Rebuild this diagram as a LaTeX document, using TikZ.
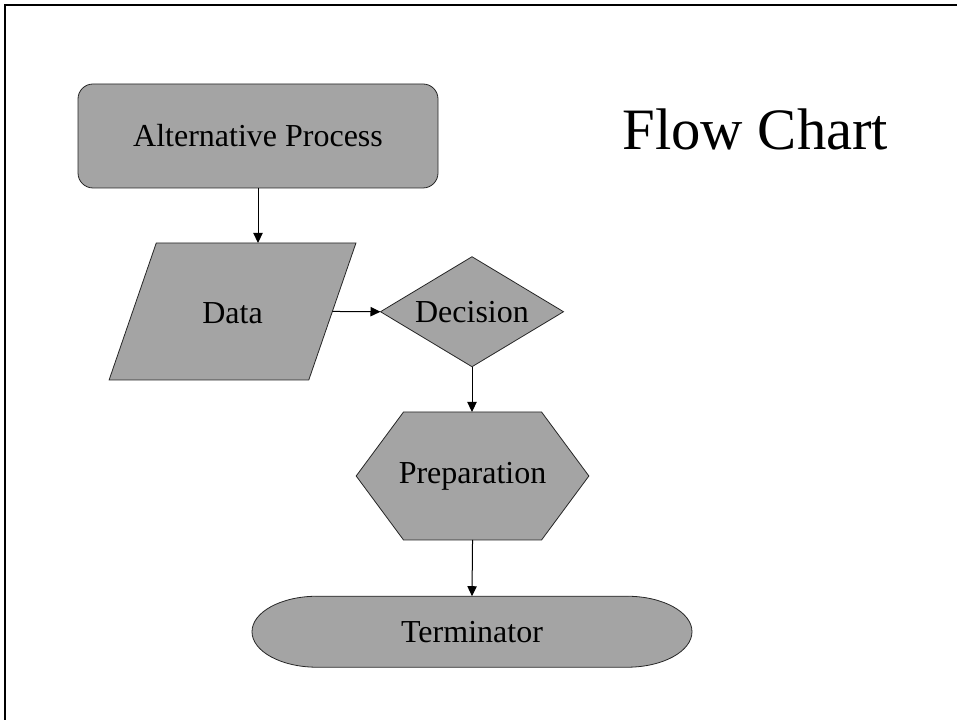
\documentclass[tikz,border=0pt]{standalone}
\usepackage{fontspec}
\setmainfont{Liberation Serif}
\usetikzlibrary{shapes.geometric}
\usetikzlibrary{shapes.symbols}
\usetikzlibrary{arrows.meta}
\usetikzlibrary{backgrounds}
\definecolor{boxgray}{RGB}{164,164,164}
\newcommand{\boxfont}{\fontsize{24}{28}\selectfont}
\newcommand{\titlefont}{\fontsize{44}{52}\selectfont}
\newcommand{\termrx}{48.75pt}
\newcommand{\termry}{26.625pt}
\tikzstyle{chartbox}=[draw=black!85, fill=boxgray, line width=0.6pt, inner sep=0, outer sep=0, font=\boxfont]
\tikzstyle{altbox}=[chartbox, rectangle, rounded corners=11.25pt, minimum width=270pt, minimum height=78pt]
\tikzstyle{databox}=[chartbox, trapezium, trapezium left angle=71, trapezium right angle=109,
                     text width=114.4pt, align=center, text height=60.2pt, text depth=42.5pt]
\tikzstyle{decisionbox}=[chartbox, diamond, aspect=1.66, minimum width=137.25pt, minimum height=82.5pt]
\tikzstyle{prepbox}=[chartbox, signal, signal to=west and east, signal pointer angle=107,
                     minimum height=96pt]
\tikzstyle{termbox}=[inner sep=0, outer sep=0, font=\boxfont, minimum width=330pt, minimum height=53.25pt]
\tikzstyle{flow}=[line width=0.75pt, -{Triangle[length=7.5pt,width=7pt]}]
\tikzstyle{chart}=[x=1pt, y=1pt,
                   % terminator outline, drawn behind its text
                   termline/.style={draw=black!85, fill=boxgray, line width=0.6pt}]

\begin{document}
\begin{tikzpicture}[chart]
    \useasboundingbox (0,0) rectangle (717.75,540);
    % slide frame
    \draw[line width=1.5pt] (3.75,0) -- (3.75,536.25) -- (717.75,536.25);
    \node[font=\titlefont, anchor=base, inner sep=0] (title) at (566.6,427.5) {Flow Chart};
    \node[altbox] (alt) at (193.5,438) {Alternative Process};
    \node[databox] (data) at (174.4,306.4) {Data};
    \node[decisionbox] (dec) at (354,306.2) {Decision};
    \node[prepbox] (prep) at (354.4,183) {\makebox[103.5pt]{Preparation}};
    \node[termbox] (term) at (354,66.2) {Terminator};
    \begin{scope}[on background layer]
        \draw[termline] ([xshift=\termrx]term.north west) -- ([xshift=-\termrx]term.north east)
            arc[start angle=90, end angle=-90, x radius=\termrx, y radius=\termry]
            -- ([xshift=\termrx]term.south west)
            arc[start angle=270, end angle=90, x radius=\termrx, y radius=\termry] -- cycle;
    \end{scope}
    \draw[flow] (alt.south) -- (alt.south |- data.north);
    \draw[flow] (data.east) -- (dec.west);
    \draw[flow] (dec.south) -- (dec.south |- prep.north);
    \draw[flow] (prep.south) -- (term.north);
\end{tikzpicture}
\end{document}
